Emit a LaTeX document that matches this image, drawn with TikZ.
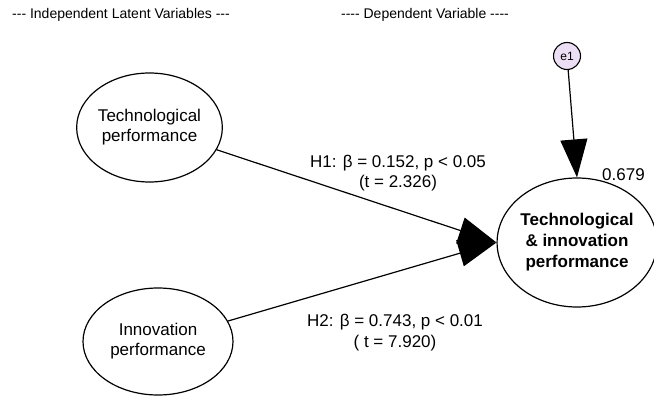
\documentclass[tikz,border=0pt]{standalone}
\usepackage{fontspec}
\setmainfont{Liberation Sans}
\usetikzlibrary{shapes.geometric,arrows.meta}
\definecolor{errfill}{RGB}{236,222,244}
\tikzset{
  latent/.style={ellipse,draw=black,line width=1.2pt,fill=white,inner sep=0pt,align=center,
    font=\fontsize{17}{20}\selectfont},
  errnode/.style={circle,draw=black,line width=1.1pt,fill=errfill,inner sep=0pt,minimum size=27pt,
    font=\fontsize{12}{12}\selectfont},
  path/.style={line width=1.2pt,-{Triangle[length=38pt,width=27pt]}},
  lbl/.style={align=center,font=\fontsize{17}{20.5}\selectfont,inner sep=0pt},
  hdr/.style={font=\fontsize{14}{16}\selectfont,inner sep=0pt}
}
\begin{document}
\begin{tikzpicture}[x=1pt,y=-1pt]
\useasboundingbox (0,0) rectangle (654,396);
\node[hdr] (hl) at (121,15) {-{}-{}- Independent Latent Variables -{}-{}-};
\node[hdr] (hr) at (425,15) {-{}-{}-{}- Dependent Variable -{}-{}-{}-};
\node[latent,minimum width=145pt,minimum height=109pt] (tp) at (149.5,127.5) {Technological\\performance};
\node[latent,minimum width=150pt,minimum height=107pt] (ip) at (158,341.5) {Innovation\\performance};
\node[latent,minimum width=146pt,minimum height=129pt,font=\fontsize{17}{21}\selectfont\bfseries] (dv) at (577,242.5) {Technological\\\& innovation\\performance};
\node[errnode] (e1) at (567,56) {e1};
\draw[path] (tp) -- (dv.west);
\draw[path] (ip) -- (dv.west);
\draw[path] (e1) -- (dv.north);
\node[lbl] (l1) at (398,173) {H1: β = 0.152, p < 0.05\\(t = 2.326)};
\node[lbl] (l2) at (395,332.5) {H2: β = 0.743, p < 0.01\\( t = 7.920)};
\node[lbl] (r2) at (623.5,175) {0.679};
\end{tikzpicture}
\end{document}
